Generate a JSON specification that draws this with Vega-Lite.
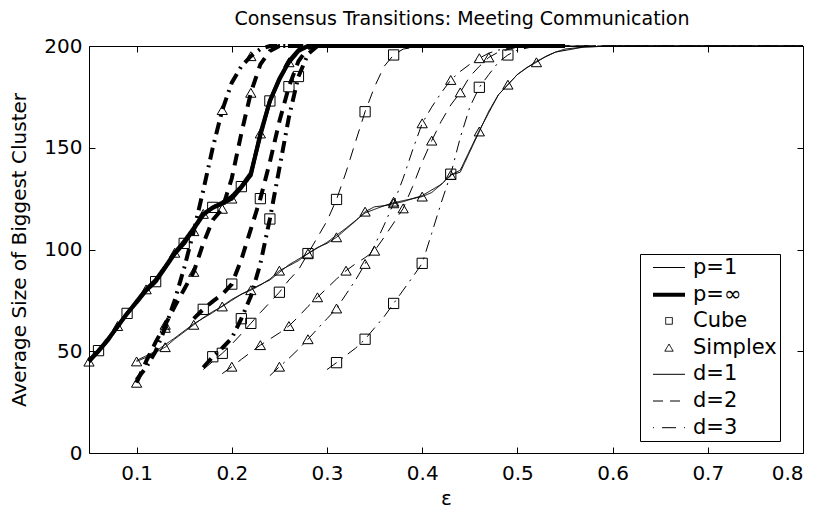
{
  "$schema": "https://vega.github.io/schema/vega-lite/v6.json",
  "autosize": "none",
  "width": 714,
  "height": 407,
  "padding": {"left": 89, "top": 46, "right": 22, "bottom": 55},
  "background": "white",
  "title": {"text": "Consensus Transitions: Meeting Communication", "anchor": "middle", "offset": 7, "dx": 16, "fontSize": 19, "fontWeight": "normal", "font": "DejaVu Sans", "color": "black"},
  "datasets": {
    "curves": [
      {"p":"∞","topology":"Simplex","d":"1","eps":0.05,"size":44.9},{"p":"∞","topology":"Simplex","d":"1","eps":0.06,"size":50},{"p":"∞","topology":"Simplex","d":"1","eps":0.07,"size":55.5},{"p":"∞","topology":"Simplex","d":"1","eps":0.08,"size":62.4},{"p":"∞","topology":"Simplex","d":"1","eps":0.09,"size":68.4},{"p":"∞","topology":"Simplex","d":"1","eps":0.10,"size":74.5},{"p":"∞","topology":"Simplex","d":"1","eps":0.11,"size":80.4},{"p":"∞","topology":"Simplex","d":"1","eps":0.12,"size":85},{"p":"∞","topology":"Simplex","d":"1","eps":0.13,"size":91.5},{"p":"∞","topology":"Simplex","d":"1","eps":0.14,"size":98.4},{"p":"∞","topology":"Simplex","d":"1","eps":0.15,"size":104},{"p":"∞","topology":"Simplex","d":"1","eps":0.16,"size":110.5},{"p":"∞","topology":"Simplex","d":"1","eps":0.17,"size":117.5},{"p":"∞","topology":"Simplex","d":"1","eps":0.18,"size":120.5},{"p":"∞","topology":"Simplex","d":"1","eps":0.19,"size":122.5},{"p":"∞","topology":"Simplex","d":"1","eps":0.20,"size":125},{"p":"∞","topology":"Simplex","d":"1","eps":0.21,"size":130.5},{"p":"∞","topology":"Simplex","d":"1","eps":0.22,"size":136.6},{"p":"∞","topology":"Simplex","d":"1","eps":0.23,"size":157},{"p":"∞","topology":"Simplex","d":"1","eps":0.24,"size":173},{"p":"∞","topology":"Simplex","d":"1","eps":0.25,"size":184},{"p":"∞","topology":"Simplex","d":"1","eps":0.26,"size":192},{"p":"∞","topology":"Simplex","d":"1","eps":0.27,"size":197.5},{"p":"∞","topology":"Simplex","d":"1","eps":0.28,"size":200},{"p":"∞","topology":"Simplex","d":"1","eps":0.55,"size":200},

      {"p":"∞","topology":"Cube","d":"1","eps":0.05,"size":45.5},{"p":"∞","topology":"Cube","d":"1","eps":0.06,"size":50.3},{"p":"∞","topology":"Cube","d":"1","eps":0.07,"size":56},{"p":"∞","topology":"Cube","d":"1","eps":0.08,"size":62},{"p":"∞","topology":"Cube","d":"1","eps":0.09,"size":68.6},{"p":"∞","topology":"Cube","d":"1","eps":0.10,"size":74},{"p":"∞","topology":"Cube","d":"1","eps":0.11,"size":79.8},{"p":"∞","topology":"Cube","d":"1","eps":0.12,"size":84.2},{"p":"∞","topology":"Cube","d":"1","eps":0.13,"size":91},{"p":"∞","topology":"Cube","d":"1","eps":0.14,"size":97.8},{"p":"∞","topology":"Cube","d":"1","eps":0.15,"size":103},{"p":"∞","topology":"Cube","d":"1","eps":0.16,"size":110},{"p":"∞","topology":"Cube","d":"1","eps":0.17,"size":117},{"p":"∞","topology":"Cube","d":"1","eps":0.18,"size":120.7},{"p":"∞","topology":"Cube","d":"1","eps":0.19,"size":123},{"p":"∞","topology":"Cube","d":"1","eps":0.20,"size":126},{"p":"∞","topology":"Cube","d":"1","eps":0.21,"size":130.9},{"p":"∞","topology":"Cube","d":"1","eps":0.22,"size":137.5},{"p":"∞","topology":"Cube","d":"1","eps":0.23,"size":156},{"p":"∞","topology":"Cube","d":"1","eps":0.24,"size":173},{"p":"∞","topology":"Cube","d":"1","eps":0.25,"size":183.5},{"p":"∞","topology":"Cube","d":"1","eps":0.26,"size":192.5},{"p":"∞","topology":"Cube","d":"1","eps":0.27,"size":198},{"p":"∞","topology":"Cube","d":"1","eps":0.28,"size":200},{"p":"∞","topology":"Cube","d":"1","eps":0.55,"size":200},

      {"p":"∞","topology":"Simplex","d":"2","eps":0.10,"size":34.5},{"p":"∞","topology":"Simplex","d":"2","eps":0.11,"size":45},{"p":"∞","topology":"Simplex","d":"2","eps":0.12,"size":54.5},{"p":"∞","topology":"Simplex","d":"2","eps":0.13,"size":63},{"p":"∞","topology":"Simplex","d":"2","eps":0.14,"size":72},{"p":"∞","topology":"Simplex","d":"2","eps":0.15,"size":80.5},{"p":"∞","topology":"Simplex","d":"2","eps":0.16,"size":89},{"p":"∞","topology":"Simplex","d":"2","eps":0.17,"size":103},{"p":"∞","topology":"Simplex","d":"2","eps":0.18,"size":114.5},{"p":"∞","topology":"Simplex","d":"2","eps":0.19,"size":120},{"p":"∞","topology":"Simplex","d":"2","eps":0.20,"size":135},{"p":"∞","topology":"Simplex","d":"2","eps":0.21,"size":157},{"p":"∞","topology":"Simplex","d":"2","eps":0.22,"size":177},{"p":"∞","topology":"Simplex","d":"2","eps":0.23,"size":191},{"p":"∞","topology":"Simplex","d":"2","eps":0.24,"size":197.5},{"p":"∞","topology":"Simplex","d":"2","eps":0.25,"size":200},{"p":"∞","topology":"Simplex","d":"2","eps":0.55,"size":200},

      {"p":"∞","topology":"Simplex","d":"3","eps":0.10,"size":36},{"p":"∞","topology":"Simplex","d":"3","eps":0.11,"size":42},{"p":"∞","topology":"Simplex","d":"3","eps":0.12,"size":50},{"p":"∞","topology":"Simplex","d":"3","eps":0.13,"size":61.5},{"p":"∞","topology":"Simplex","d":"3","eps":0.14,"size":75},{"p":"∞","topology":"Simplex","d":"3","eps":0.15,"size":91},{"p":"∞","topology":"Simplex","d":"3","eps":0.16,"size":109},{"p":"∞","topology":"Simplex","d":"3","eps":0.17,"size":129},{"p":"∞","topology":"Simplex","d":"3","eps":0.18,"size":150},{"p":"∞","topology":"Simplex","d":"3","eps":0.19,"size":168.5},{"p":"∞","topology":"Simplex","d":"3","eps":0.20,"size":182},{"p":"∞","topology":"Simplex","d":"3","eps":0.21,"size":190},{"p":"∞","topology":"Simplex","d":"3","eps":0.22,"size":195},{"p":"∞","topology":"Simplex","d":"3","eps":0.23,"size":198.5},{"p":"∞","topology":"Simplex","d":"3","eps":0.24,"size":200},{"p":"∞","topology":"Simplex","d":"3","eps":0.55,"size":200},

      {"p":"∞","topology":"Cube","d":"2","eps":0.16,"size":66},{"p":"∞","topology":"Cube","d":"2","eps":0.17,"size":70.6},{"p":"∞","topology":"Cube","d":"2","eps":0.18,"size":74.5},{"p":"∞","topology":"Cube","d":"2","eps":0.19,"size":78},{"p":"∞","topology":"Cube","d":"2","eps":0.20,"size":83},{"p":"∞","topology":"Cube","d":"2","eps":0.21,"size":95},{"p":"∞","topology":"Cube","d":"2","eps":0.22,"size":110},{"p":"∞","topology":"Cube","d":"2","eps":0.23,"size":125},{"p":"∞","topology":"Cube","d":"2","eps":0.24,"size":143},{"p":"∞","topology":"Cube","d":"2","eps":0.25,"size":163},{"p":"∞","topology":"Cube","d":"2","eps":0.26,"size":180},{"p":"∞","topology":"Cube","d":"2","eps":0.27,"size":192.5},{"p":"∞","topology":"Cube","d":"2","eps":0.28,"size":199},{"p":"∞","topology":"Cube","d":"2","eps":0.29,"size":200},{"p":"∞","topology":"Cube","d":"2","eps":0.55,"size":200},

      {"p":"∞","topology":"Cube","d":"3","eps":0.17,"size":42},{"p":"∞","topology":"Cube","d":"3","eps":0.18,"size":47.3},{"p":"∞","topology":"Cube","d":"3","eps":0.19,"size":51.6},{"p":"∞","topology":"Cube","d":"3","eps":0.20,"size":56.5},{"p":"∞","topology":"Cube","d":"3","eps":0.21,"size":66},{"p":"∞","topology":"Cube","d":"3","eps":0.22,"size":77},{"p":"∞","topology":"Cube","d":"3","eps":0.23,"size":93},{"p":"∞","topology":"Cube","d":"3","eps":0.24,"size":115},{"p":"∞","topology":"Cube","d":"3","eps":0.25,"size":140},{"p":"∞","topology":"Cube","d":"3","eps":0.26,"size":165},{"p":"∞","topology":"Cube","d":"3","eps":0.27,"size":185},{"p":"∞","topology":"Cube","d":"3","eps":0.28,"size":196},{"p":"∞","topology":"Cube","d":"3","eps":0.29,"size":200},{"p":"∞","topology":"Cube","d":"3","eps":0.55,"size":200},

      {"p":"1","topology":"Simplex","d":"1","eps":0.10,"size":45},{"p":"1","topology":"Simplex","d":"1","eps":0.11,"size":47},{"p":"1","topology":"Simplex","d":"1","eps":0.12,"size":49.5},{"p":"1","topology":"Simplex","d":"1","eps":0.13,"size":52},{"p":"1","topology":"Simplex","d":"1","eps":0.14,"size":56},{"p":"1","topology":"Simplex","d":"1","eps":0.15,"size":59.5},{"p":"1","topology":"Simplex","d":"1","eps":0.16,"size":63},{"p":"1","topology":"Simplex","d":"1","eps":0.17,"size":66.5},{"p":"1","topology":"Simplex","d":"1","eps":0.18,"size":69.5},{"p":"1","topology":"Simplex","d":"1","eps":0.19,"size":72},{"p":"1","topology":"Simplex","d":"1","eps":0.20,"size":75},{"p":"1","topology":"Simplex","d":"1","eps":0.21,"size":78},{"p":"1","topology":"Simplex","d":"1","eps":0.22,"size":80},{"p":"1","topology":"Simplex","d":"1","eps":0.23,"size":82.5},{"p":"1","topology":"Simplex","d":"1","eps":0.24,"size":85.5},{"p":"1","topology":"Simplex","d":"1","eps":0.25,"size":89.6},{"p":"1","topology":"Simplex","d":"1","eps":0.26,"size":92},{"p":"1","topology":"Simplex","d":"1","eps":0.27,"size":94.5},{"p":"1","topology":"Simplex","d":"1","eps":0.28,"size":98},{"p":"1","topology":"Simplex","d":"1","eps":0.29,"size":101},{"p":"1","topology":"Simplex","d":"1","eps":0.30,"size":103},{"p":"1","topology":"Simplex","d":"1","eps":0.31,"size":106},{"p":"1","topology":"Simplex","d":"1","eps":0.32,"size":110},{"p":"1","topology":"Simplex","d":"1","eps":0.33,"size":114},{"p":"1","topology":"Simplex","d":"1","eps":0.34,"size":118.6},{"p":"1","topology":"Simplex","d":"1","eps":0.35,"size":121},{"p":"1","topology":"Simplex","d":"1","eps":0.36,"size":121.5},{"p":"1","topology":"Simplex","d":"1","eps":0.37,"size":123},{"p":"1","topology":"Simplex","d":"1","eps":0.38,"size":124},{"p":"1","topology":"Simplex","d":"1","eps":0.39,"size":125},{"p":"1","topology":"Simplex","d":"1","eps":0.40,"size":126},{"p":"1","topology":"Simplex","d":"1","eps":0.41,"size":128},{"p":"1","topology":"Simplex","d":"1","eps":0.42,"size":132},{"p":"1","topology":"Simplex","d":"1","eps":0.43,"size":136.6},{"p":"1","topology":"Simplex","d":"1","eps":0.44,"size":138},{"p":"1","topology":"Simplex","d":"1","eps":0.45,"size":148},{"p":"1","topology":"Simplex","d":"1","eps":0.46,"size":158},{"p":"1","topology":"Simplex","d":"1","eps":0.47,"size":168},{"p":"1","topology":"Simplex","d":"1","eps":0.48,"size":176},{"p":"1","topology":"Simplex","d":"1","eps":0.49,"size":181},{"p":"1","topology":"Simplex","d":"1","eps":0.50,"size":186},{"p":"1","topology":"Simplex","d":"1","eps":0.51,"size":189.5},{"p":"1","topology":"Simplex","d":"1","eps":0.52,"size":192},{"p":"1","topology":"Simplex","d":"1","eps":0.53,"size":195},{"p":"1","topology":"Simplex","d":"1","eps":0.54,"size":197},{"p":"1","topology":"Simplex","d":"1","eps":0.55,"size":198.5},{"p":"1","topology":"Simplex","d":"1","eps":0.57,"size":199.5},{"p":"1","topology":"Simplex","d":"1","eps":0.60,"size":200},{"p":"1","topology":"Simplex","d":"1","eps":0.80,"size":200},

      {"p":"1","topology":"Cube","d":"1","eps":0.10,"size":45.5},{"p":"1","topology":"Cube","d":"1","eps":0.12,"size":50},{"p":"1","topology":"Cube","d":"1","eps":0.14,"size":56.5},{"p":"1","topology":"Cube","d":"1","eps":0.16,"size":63.5},{"p":"1","topology":"Cube","d":"1","eps":0.18,"size":69},{"p":"1","topology":"Cube","d":"1","eps":0.20,"size":75.5},{"p":"1","topology":"Cube","d":"1","eps":0.22,"size":80.5},{"p":"1","topology":"Cube","d":"1","eps":0.24,"size":85},{"p":"1","topology":"Cube","d":"1","eps":0.26,"size":92.5},{"p":"1","topology":"Cube","d":"1","eps":0.28,"size":98},{"p":"1","topology":"Cube","d":"1","eps":0.30,"size":103.5},{"p":"1","topology":"Cube","d":"1","eps":0.32,"size":110.5},{"p":"1","topology":"Cube","d":"1","eps":0.34,"size":118},{"p":"1","topology":"Cube","d":"1","eps":0.36,"size":121.5},{"p":"1","topology":"Cube","d":"1","eps":0.38,"size":123.5},{"p":"1","topology":"Cube","d":"1","eps":0.40,"size":126.5},{"p":"1","topology":"Cube","d":"1","eps":0.42,"size":132},{"p":"1","topology":"Cube","d":"1","eps":0.43,"size":136.6},{"p":"1","topology":"Cube","d":"1","eps":0.44,"size":139},{"p":"1","topology":"Cube","d":"1","eps":0.46,"size":158.5},{"p":"1","topology":"Cube","d":"1","eps":0.48,"size":176},{"p":"1","topology":"Cube","d":"1","eps":0.50,"size":186},{"p":"1","topology":"Cube","d":"1","eps":0.52,"size":192.5},{"p":"1","topology":"Cube","d":"1","eps":0.54,"size":197},{"p":"1","topology":"Cube","d":"1","eps":0.57,"size":199.5},{"p":"1","topology":"Cube","d":"1","eps":0.60,"size":200},{"p":"1","topology":"Cube","d":"1","eps":0.80,"size":200},

      {"p":"1","topology":"Cube","d":"2","eps":0.17,"size":41},{"p":"1","topology":"Cube","d":"2","eps":0.18,"size":45},{"p":"1","topology":"Cube","d":"2","eps":0.19,"size":49},{"p":"1","topology":"Cube","d":"2","eps":0.20,"size":53.5},{"p":"1","topology":"Cube","d":"2","eps":0.21,"size":58.5},{"p":"1","topology":"Cube","d":"2","eps":0.22,"size":63.7},{"p":"1","topology":"Cube","d":"2","eps":0.23,"size":69},{"p":"1","topology":"Cube","d":"2","eps":0.24,"size":74},{"p":"1","topology":"Cube","d":"2","eps":0.25,"size":79},{"p":"1","topology":"Cube","d":"2","eps":0.26,"size":85},{"p":"1","topology":"Cube","d":"2","eps":0.27,"size":90},{"p":"1","topology":"Cube","d":"2","eps":0.28,"size":98},{"p":"1","topology":"Cube","d":"2","eps":0.29,"size":106},{"p":"1","topology":"Cube","d":"2","eps":0.30,"size":114},{"p":"1","topology":"Cube","d":"2","eps":0.31,"size":124.6},{"p":"1","topology":"Cube","d":"2","eps":0.32,"size":138},{"p":"1","topology":"Cube","d":"2","eps":0.33,"size":153},{"p":"1","topology":"Cube","d":"2","eps":0.34,"size":167.7},{"p":"1","topology":"Cube","d":"2","eps":0.35,"size":180},{"p":"1","topology":"Cube","d":"2","eps":0.36,"size":190},{"p":"1","topology":"Cube","d":"2","eps":0.37,"size":195.6},{"p":"1","topology":"Cube","d":"2","eps":0.38,"size":198.5},{"p":"1","topology":"Cube","d":"2","eps":0.40,"size":200},{"p":"1","topology":"Cube","d":"2","eps":0.80,"size":200},

      {"p":"1","topology":"Cube","d":"3","eps":0.30,"size":41},{"p":"1","topology":"Cube","d":"3","eps":0.31,"size":44.4},{"p":"1","topology":"Cube","d":"3","eps":0.32,"size":48},{"p":"1","topology":"Cube","d":"3","eps":0.33,"size":51.5},{"p":"1","topology":"Cube","d":"3","eps":0.34,"size":55.9},{"p":"1","topology":"Cube","d":"3","eps":0.35,"size":61.5},{"p":"1","topology":"Cube","d":"3","eps":0.36,"size":67},{"p":"1","topology":"Cube","d":"3","eps":0.37,"size":73.5},{"p":"1","topology":"Cube","d":"3","eps":0.38,"size":80},{"p":"1","topology":"Cube","d":"3","eps":0.39,"size":86.5},{"p":"1","topology":"Cube","d":"3","eps":0.40,"size":93.2},{"p":"1","topology":"Cube","d":"3","eps":0.41,"size":108},{"p":"1","topology":"Cube","d":"3","eps":0.42,"size":123},{"p":"1","topology":"Cube","d":"3","eps":0.43,"size":137},{"p":"1","topology":"Cube","d":"3","eps":0.44,"size":155},{"p":"1","topology":"Cube","d":"3","eps":0.45,"size":170},{"p":"1","topology":"Cube","d":"3","eps":0.46,"size":179.7},{"p":"1","topology":"Cube","d":"3","eps":0.47,"size":186},{"p":"1","topology":"Cube","d":"3","eps":0.48,"size":192},{"p":"1","topology":"Cube","d":"3","eps":0.49,"size":195.6},{"p":"1","topology":"Cube","d":"3","eps":0.50,"size":198},{"p":"1","topology":"Cube","d":"3","eps":0.52,"size":200},{"p":"1","topology":"Cube","d":"3","eps":0.80,"size":200},

      {"p":"1","topology":"Simplex","d":"2","eps":0.19,"size":39},{"p":"1","topology":"Simplex","d":"2","eps":0.20,"size":42.4},{"p":"1","topology":"Simplex","d":"2","eps":0.21,"size":46},{"p":"1","topology":"Simplex","d":"2","eps":0.22,"size":49.5},{"p":"1","topology":"Simplex","d":"2","eps":0.23,"size":53},{"p":"1","topology":"Simplex","d":"2","eps":0.24,"size":56},{"p":"1","topology":"Simplex","d":"2","eps":0.25,"size":59},{"p":"1","topology":"Simplex","d":"2","eps":0.26,"size":62.4},{"p":"1","topology":"Simplex","d":"2","eps":0.27,"size":67},{"p":"1","topology":"Simplex","d":"2","eps":0.28,"size":72},{"p":"1","topology":"Simplex","d":"2","eps":0.29,"size":76.5},{"p":"1","topology":"Simplex","d":"2","eps":0.30,"size":81},{"p":"1","topology":"Simplex","d":"2","eps":0.31,"size":85.5},{"p":"1","topology":"Simplex","d":"2","eps":0.32,"size":89.6},{"p":"1","topology":"Simplex","d":"2","eps":0.33,"size":93},{"p":"1","topology":"Simplex","d":"2","eps":0.34,"size":96},{"p":"1","topology":"Simplex","d":"2","eps":0.35,"size":99.4},{"p":"1","topology":"Simplex","d":"2","eps":0.36,"size":106},{"p":"1","topology":"Simplex","d":"2","eps":0.37,"size":113},{"p":"1","topology":"Simplex","d":"2","eps":0.38,"size":120.2},{"p":"1","topology":"Simplex","d":"2","eps":0.39,"size":131},{"p":"1","topology":"Simplex","d":"2","eps":0.40,"size":143},{"p":"1","topology":"Simplex","d":"2","eps":0.41,"size":153.5},{"p":"1","topology":"Simplex","d":"2","eps":0.42,"size":163},{"p":"1","topology":"Simplex","d":"2","eps":0.43,"size":171},{"p":"1","topology":"Simplex","d":"2","eps":0.44,"size":177.2},{"p":"1","topology":"Simplex","d":"2","eps":0.45,"size":185},{"p":"1","topology":"Simplex","d":"2","eps":0.46,"size":190},{"p":"1","topology":"Simplex","d":"2","eps":0.47,"size":194.4},{"p":"1","topology":"Simplex","d":"2","eps":0.48,"size":197},{"p":"1","topology":"Simplex","d":"2","eps":0.50,"size":199.5},{"p":"1","topology":"Simplex","d":"2","eps":0.53,"size":200},{"p":"1","topology":"Simplex","d":"2","eps":0.80,"size":200},

      {"p":"1","topology":"Simplex","d":"3","eps":0.24,"size":38},{"p":"1","topology":"Simplex","d":"3","eps":0.25,"size":42.4},{"p":"1","topology":"Simplex","d":"3","eps":0.26,"size":46.5},{"p":"1","topology":"Simplex","d":"3","eps":0.27,"size":51},{"p":"1","topology":"Simplex","d":"3","eps":0.28,"size":55.9},{"p":"1","topology":"Simplex","d":"3","eps":0.29,"size":61},{"p":"1","topology":"Simplex","d":"3","eps":0.30,"size":66},{"p":"1","topology":"Simplex","d":"3","eps":0.31,"size":71},{"p":"1","topology":"Simplex","d":"3","eps":0.32,"size":78},{"p":"1","topology":"Simplex","d":"3","eps":0.33,"size":85},{"p":"1","topology":"Simplex","d":"3","eps":0.34,"size":92.9},{"p":"1","topology":"Simplex","d":"3","eps":0.35,"size":102},{"p":"1","topology":"Simplex","d":"3","eps":0.36,"size":112},{"p":"1","topology":"Simplex","d":"3","eps":0.37,"size":122.7},{"p":"1","topology":"Simplex","d":"3","eps":0.38,"size":135},{"p":"1","topology":"Simplex","d":"3","eps":0.39,"size":149},{"p":"1","topology":"Simplex","d":"3","eps":0.40,"size":162},{"p":"1","topology":"Simplex","d":"3","eps":0.41,"size":170},{"p":"1","topology":"Simplex","d":"3","eps":0.42,"size":177},{"p":"1","topology":"Simplex","d":"3","eps":0.43,"size":183.3},{"p":"1","topology":"Simplex","d":"3","eps":0.44,"size":187.5},{"p":"1","topology":"Simplex","d":"3","eps":0.45,"size":191},{"p":"1","topology":"Simplex","d":"3","eps":0.46,"size":194},{"p":"1","topology":"Simplex","d":"3","eps":0.47,"size":196.5},{"p":"1","topology":"Simplex","d":"3","eps":0.48,"size":198},{"p":"1","topology":"Simplex","d":"3","eps":0.50,"size":199.5},{"p":"1","topology":"Simplex","d":"3","eps":0.53,"size":200},{"p":"1","topology":"Simplex","d":"3","eps":0.80,"size":200}
    ],
    "markers": [
      {"p":"∞","topology":"Simplex","d":"1","eps":0.05,"size":44.9},{"p":"∞","topology":"Simplex","d":"1","eps":0.08,"size":62.4},{"p":"∞","topology":"Simplex","d":"1","eps":0.11,"size":80.4},{"p":"∞","topology":"Simplex","d":"1","eps":0.14,"size":98.4},{"p":"∞","topology":"Simplex","d":"1","eps":0.17,"size":117.5},{"p":"∞","topology":"Simplex","d":"1","eps":0.20,"size":125},{"p":"∞","topology":"Simplex","d":"1","eps":0.23,"size":157},{"p":"∞","topology":"Simplex","d":"1","eps":0.26,"size":192},
      {"p":"∞","topology":"Cube","d":"1","eps":0.06,"size":50.3},{"p":"∞","topology":"Cube","d":"1","eps":0.09,"size":68.6},{"p":"∞","topology":"Cube","d":"1","eps":0.12,"size":84.2},{"p":"∞","topology":"Cube","d":"1","eps":0.15,"size":103},{"p":"∞","topology":"Cube","d":"1","eps":0.18,"size":120.7},{"p":"∞","topology":"Cube","d":"1","eps":0.21,"size":130.9},{"p":"∞","topology":"Cube","d":"1","eps":0.24,"size":173},
      {"p":"∞","topology":"Simplex","d":"2","eps":0.10,"size":34.5},{"p":"∞","topology":"Simplex","d":"2","eps":0.13,"size":63},{"p":"∞","topology":"Simplex","d":"2","eps":0.16,"size":89},{"p":"∞","topology":"Simplex","d":"2","eps":0.19,"size":120},{"p":"∞","topology":"Simplex","d":"2","eps":0.22,"size":177},
      {"p":"∞","topology":"Simplex","d":"3","eps":0.13,"size":61.5},{"p":"∞","topology":"Simplex","d":"3","eps":0.16,"size":109},{"p":"∞","topology":"Simplex","d":"3","eps":0.19,"size":168.5},{"p":"∞","topology":"Simplex","d":"3","eps":0.22,"size":195},
      {"p":"∞","topology":"Cube","d":"2","eps":0.17,"size":70.6},{"p":"∞","topology":"Cube","d":"2","eps":0.20,"size":83},{"p":"∞","topology":"Cube","d":"2","eps":0.23,"size":125},{"p":"∞","topology":"Cube","d":"2","eps":0.26,"size":180},
      {"p":"∞","topology":"Cube","d":"3","eps":0.18,"size":47.3},{"p":"∞","topology":"Cube","d":"3","eps":0.21,"size":66},{"p":"∞","topology":"Cube","d":"3","eps":0.24,"size":115},{"p":"∞","topology":"Cube","d":"3","eps":0.27,"size":185},
      {"p":"1","topology":"Simplex","d":"1","eps":0.10,"size":45},{"p":"1","topology":"Simplex","d":"1","eps":0.13,"size":52},{"p":"1","topology":"Simplex","d":"1","eps":0.16,"size":63},{"p":"1","topology":"Simplex","d":"1","eps":0.19,"size":72},{"p":"1","topology":"Simplex","d":"1","eps":0.22,"size":80},{"p":"1","topology":"Simplex","d":"1","eps":0.25,"size":89.6},{"p":"1","topology":"Simplex","d":"1","eps":0.28,"size":98},{"p":"1","topology":"Simplex","d":"1","eps":0.31,"size":106},{"p":"1","topology":"Simplex","d":"1","eps":0.34,"size":118.6},{"p":"1","topology":"Simplex","d":"1","eps":0.37,"size":123.5},{"p":"1","topology":"Simplex","d":"1","eps":0.40,"size":126},{"p":"1","topology":"Simplex","d":"1","eps":0.43,"size":136.6},{"p":"1","topology":"Simplex","d":"1","eps":0.46,"size":158},{"p":"1","topology":"Simplex","d":"1","eps":0.49,"size":181},{"p":"1","topology":"Simplex","d":"1","eps":0.52,"size":192},
      {"p":"1","topology":"Cube","d":"2","eps":0.19,"size":49},{"p":"1","topology":"Cube","d":"2","eps":0.22,"size":63.7},{"p":"1","topology":"Cube","d":"2","eps":0.25,"size":79},{"p":"1","topology":"Cube","d":"2","eps":0.28,"size":98},{"p":"1","topology":"Cube","d":"2","eps":0.31,"size":124.6},{"p":"1","topology":"Cube","d":"2","eps":0.34,"size":167.7},{"p":"1","topology":"Cube","d":"2","eps":0.37,"size":195.6},
      {"p":"1","topology":"Cube","d":"3","eps":0.31,"size":44.4},{"p":"1","topology":"Cube","d":"3","eps":0.34,"size":55.9},{"p":"1","topology":"Cube","d":"3","eps":0.37,"size":73.5},{"p":"1","topology":"Cube","d":"3","eps":0.40,"size":93.2},{"p":"1","topology":"Cube","d":"3","eps":0.43,"size":137},{"p":"1","topology":"Cube","d":"3","eps":0.46,"size":179.7},{"p":"1","topology":"Cube","d":"3","eps":0.49,"size":195.6},
      {"p":"1","topology":"Simplex","d":"2","eps":0.20,"size":42.4},{"p":"1","topology":"Simplex","d":"2","eps":0.23,"size":53},{"p":"1","topology":"Simplex","d":"2","eps":0.26,"size":62.4},{"p":"1","topology":"Simplex","d":"2","eps":0.29,"size":76.5},{"p":"1","topology":"Simplex","d":"2","eps":0.32,"size":89.6},{"p":"1","topology":"Simplex","d":"2","eps":0.35,"size":99.4},{"p":"1","topology":"Simplex","d":"2","eps":0.38,"size":120.2},{"p":"1","topology":"Simplex","d":"2","eps":0.41,"size":153.5},{"p":"1","topology":"Simplex","d":"2","eps":0.44,"size":177.2},{"p":"1","topology":"Simplex","d":"2","eps":0.47,"size":194.4},
      {"p":"1","topology":"Simplex","d":"3","eps":0.25,"size":42.4},{"p":"1","topology":"Simplex","d":"3","eps":0.28,"size":55.9},{"p":"1","topology":"Simplex","d":"3","eps":0.31,"size":71},{"p":"1","topology":"Simplex","d":"3","eps":0.34,"size":92.9},{"p":"1","topology":"Simplex","d":"3","eps":0.37,"size":122.7},{"p":"1","topology":"Simplex","d":"3","eps":0.40,"size":162},{"p":"1","topology":"Simplex","d":"3","eps":0.43,"size":183.3},{"p":"1","topology":"Simplex","d":"3","eps":0.46,"size":194}
    ],
    "keys": [
      {"key":"p=1"},{"key":"p=∞"},{"key":"Cube"},{"key":"Simplex"},{"key":"d=1"},{"key":"d=2"},{"key":"d=3"}
    ]
  },
  "layer": [
    {
      "data": {"name": "curves"},
      "mark": {"type": "line", "color": "black", "clip": false, "strokeCap": "butt"},
      "encoding": {
        "x": {"field": "eps", "type": "quantitative", "scale": {"domain": [0.05, 0.8], "nice": false, "zero": false},
              "axis": {"values": [0.1,0.2,0.3,0.4,0.5,0.6,0.7,0.8], "format": ".1f", "title": "ε", "labelPadding": 16, "titlePadding": 5}},
        "y": {"field": "size", "type": "quantitative", "scale": {"domain": [0, 200], "nice": false},
              "axis": {"values": [0,50,100,150,200], "title": "Average Size of Biggest Cluster", "labelPadding": 13, "titlePadding": 14}},
        "detail": {"field": "topology", "type": "nominal"},
        "strokeDash": {"field": "d", "type": "nominal", "scale": {"domain": ["1","2","3"], "range": [[1,0],[12,8],[12,6,2,6]]}, "legend": null},
        "strokeWidth": {"field": "p", "type": "nominal", "scale": {"type": "ordinal", "domain": ["1","∞"], "range": [1, 4]}, "legend": null}
      }
    },
    {
      "data": {"name": "markers"},
      "mark": {"type": "point", "filled": false, "color": "black", "strokeWidth": 1, "size": 105, "opacity": 1, "clip": false},
      "encoding": {
        "x": {"field": "eps", "type": "quantitative", "axis": null},
        "y": {"field": "size", "type": "quantitative", "axis": null},
        "shape": {"field": "topology", "type": "nominal", "scale": {"domain": ["Cube","Simplex"], "range": ["square","triangle-up"]}, "legend": null}
      }
    },
    {
      "data": {"name": "keys"},
      "transform": [{"filter": "false"}],
      "mark": {"type": "point", "filled": false, "color": "black", "opacity": 1},
      "encoding": {
        "x": {"field": "eps", "type": "quantitative", "axis": {"orient": "top", "labels": false, "title": null, "values": [0.1,0.2,0.3,0.4,0.5,0.6,0.7,0.8]}},
        "y": {"field": "size", "type": "quantitative", "axis": {"orient": "right", "labels": false, "title": null, "values": [0,50,100,150,200]}},
        "shape": {"field": "key", "type": "nominal",
                  "scale": {"domain": ["p=1","p=∞","Cube","Simplex","d=1","d=2","d=3"], "range": ["M-1.6,0H1.6","M-1.6,0H1.6","square","triangle-up","M-1.6,0H1.6","M-1.6,0H1.6","M-1.6,0H1.6"]},
                  "legend": {"orient": "none", "legendX": 551, "legendY": 208, "title": null, "strokeColor": "black", "fillColor": "white", "padding": 3, "rowPadding": 4.7, "symbolOffset": 14, "labelOffset": 12, "labelFontSize": 21, "labelFont": "DejaVu Sans", "labelColor": "black", "labelLimit": 300, "labelExpr": "datum.label + '\u00a0'", "cornerRadius": 0}},
        "size": {"field": "key", "type": "nominal", "scale": {"type": "ordinal", "domain": ["p=1","p=∞","Cube","Simplex","d=1","d=2","d=3"], "range": [400,400,45,70,400,400,400]}},
        "strokeDash": {"field": "key", "type": "nominal", "scale": {"domain": ["p=1","p=∞","Cube","Simplex","d=1","d=2","d=3"], "range": [[1,0],[1,0],[1,0],[1,0],[1,0],[10,7],[1,8,14,8]]}},
        "strokeWidth": {"field": "key", "type": "nominal", "scale": {"type": "ordinal", "domain": ["p=1","p=∞","Cube","Simplex","d=1","d=2","d=3"], "range": [1,4,1,1,1,1,1]}}
      }
    }
  ],
  "resolve": {
    "scale": {"shape": "independent", "size": "independent", "strokeDash": "independent", "strokeWidth": "independent"},
    "axis": {"x": "independent", "y": "independent"}
  },
  "config": {
    "font": "DejaVu Sans",
    "view": {"stroke": "black", "strokeWidth": 1},
    "axis": {"grid": false, "domain": false, "ticks": true, "tickColor": "black", "tickSize": -6, "tickWidth": 1,
             "labelColor": "black", "labelFontSize": 20, "labelFont": "DejaVu Sans",
             "titleFont": "DejaVu Sans", "titleFontSize": 20, "titleFontWeight": "normal", "titleColor": "black"}
  }
}
